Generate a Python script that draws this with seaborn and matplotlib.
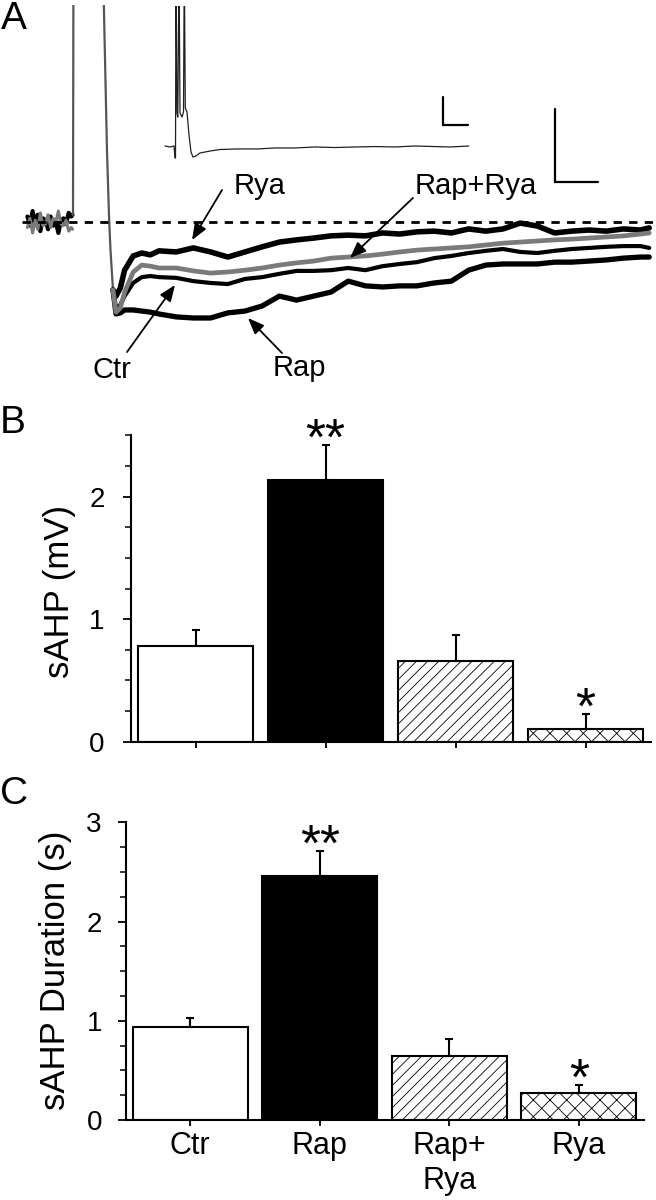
import numpy as np
import pandas as pd
import matplotlib
matplotlib.use("Agg")
import matplotlib.pyplot as plt
from matplotlib.ticker import MultipleLocator, FixedLocator
import seaborn as sns

# ---------------- data ----------------
categories = ["Ctr", "Rap", "Rap+Rya", "Rya"]
xtick_labels = ["Ctr", "Rap", "Rap+\nRya", "Rya"]
sahp_mean = [0.78, 2.14, 0.66, 0.10]      # mV
sahp_sem = [0.13, 0.28, 0.21, 0.13]
dur_mean = [0.94, 2.46, 0.64, 0.27]       # s
dur_sem = [0.09, 0.25, 0.18, 0.08]
sahp_sig = ["", "**", "", "*"]
dur_sig = ["", "**", "", "*"]

# panel A: resting baseline before the stimulus (s, mV relative to rest)
t_base = [-0.53, -0.50, -0.47, -0.44, -0.41, -0.38, -0.35, -0.32, -0.29, -0.26,
          -0.23, -0.20, -0.17, -0.14, -0.11, -0.08, -0.05, -0.02, -0.005]
v_base = [0.15, -0.10, 0.30, -0.05, 0.20, -0.25, 0.10, 0.05, -0.20, 0.15,
          -0.10, 0.00, -0.30, 0.05, 0.10, -0.05, 0.25, 0.15, 0.20]
# spike train (off scale) and fall into the AHP
t_spike = [-0.005, 0.0, 0.006, 0.34, 0.395, 0.419, 0.436, 0.465, 0.5]
v_spike = [0.20, 0.20, 8.0, 8.0, 1.97, 0.14, -0.77, -1.86, -2.45]
# afterhyperpolarisation part of each trace
t_trace = [0.5, 0.55, 0.6, 0.7, 0.8, 0.9, 1.0, 1.2, 1.4, 1.6, 1.8, 2.0, 2.2, 2.4,
           2.6, 2.8, 3.0, 3.2, 3.4, 3.6, 3.8, 4.0, 4.2, 4.4, 4.6, 4.8, 5.0, 5.2,
           5.4, 5.6, 5.8, 6.0, 6.2, 6.4, 6.6, 6.7]
v_rya = [-2.03, -1.81, -1.32, -0.93, -0.85, -0.90, -0.79, -0.82, -0.71, -0.82,
         -0.96, -0.82, -0.68, -0.55, -0.49, -0.44, -0.38, -0.36, -0.38, -0.30,
         -0.33, -0.27, -0.25, -0.30, -0.19, -0.25, -0.19, -0.03, -0.11, -0.30,
         -0.25, -0.22, -0.25, -0.19, -0.22, -0.16]
v_rap_rya = [-2.47, -2.36, -1.92, -1.37, -1.18, -1.21, -1.26, -1.26, -1.34, -1.40,
             -1.37, -1.32, -1.26, -1.18, -1.12, -1.07, -0.99, -0.96, -0.93, -0.88,
             -0.82, -0.77, -0.74, -0.71, -0.68, -0.63, -0.58, -0.55, -0.52, -0.49,
             -0.47, -0.44, -0.41, -0.38, -0.33, -0.30]
v_ctr = [-2.41, -2.27, -2.03, -1.67, -1.51, -1.48, -1.51, -1.53, -1.62, -1.67,
         -1.70, -1.56, -1.51, -1.42, -1.34, -1.34, -1.32, -1.26, -1.32, -1.21,
         -1.15, -1.10, -0.99, -0.93, -0.85, -0.79, -0.74, -0.82, -0.85, -0.79,
         -0.74, -0.71, -0.68, -0.66, -0.66, -0.71]
v_rap = [-2.52, -2.49, -2.41, -2.41, -2.44, -2.47, -2.52, -2.60, -2.63, -2.63,
         -2.49, -2.44, -2.30, -2.03, -2.14, -2.03, -1.92, -1.62, -1.75, -1.78,
         -1.75, -1.75, -1.67, -1.62, -1.32, -1.18, -1.15, -1.15, -1.15, -1.10,
         -1.10, -1.07, -1.04, -0.99, -0.96, -0.96]
# inset: full recording with spikes (s, mV)
inset_t = [-0.08, -0.04, -0.008, 0.0, 0.004, 0.008, 0.016, 0.0224, 0.032, 0.04,
           0.056, 0.068, 0.0744, 0.0824, 0.096, 0.112, 0.128, 0.144, 0.168, 0.2,
           0.28, 0.36, 0.5, 0.66, 0.8, 0.96, 1.12, 1.28, 1.44, 1.6, 1.76, 1.92,
           2.08, 2.2, 2.35]
inset_v = [0.0, -0.7, 0.0, -8.6, -8.6, 130.0, 23.6, 20.7, 130.0, 23.6,
           20.7, 24.3, 130.0, 27.1, 24.3, 7.9, -4.3, -7.9, -7.1, -5.0,
           -3.6, -2.5, -2.1, -2.1, -1.4, -1.4, -0.7, -1.1, -0.7, -0.4, -0.7, 0.0,
           -0.4, -0.7, 0.0]
scale_main = (0.5, 2.0)     # s, mV
scale_inset = (0.2, 20.0)   # s, mV

# ---------------- style ----------------
sns.set_theme(style="ticks")
plt.rcParams["font.family"] = ["Liberation Sans", "DejaVu Sans"]
plt.rcParams["hatch.linewidth"] = 0.6
for k in ["text.color", "axes.labelcolor", "xtick.color", "ytick.color",
          "axes.edgecolor"]:
    plt.rcParams[k] = "black"

W, H = 656, 1200
fig = plt.figure(figsize=(W / 100, H / 100), dpi=100)


def rect(x0, y0, x1, y1):
    return [x0 / W, 1 - y1 / H, (x1 - x0) / W, (y1 - y0) / H]


# ---------------- panel A ----------------
axA = fig.add_axes(rect(0, 5, 656, 400))
axA.set_xlim(-73 / 86, 583 / 86)
axA.set_ylim((222 - 400) / 36.5, (222 - 5) / 36.5)
axA.axis("off")

# baseline noise band (black and grey recordings overlap)
sns.lineplot(x=t_base, y=v_base, ax=axA, color="black", lw=3.0,
             estimator=None, sort=False)
sns.lineplot(x=t_base, y=[-v for v in v_base], ax=axA, color="#7a7a7a", lw=2.2,
             estimator=None, sort=False)
sns.lineplot(x=t_spike, y=v_spike, ax=axA, color="#555555", lw=1.6,
             estimator=None, sort=False)

traces = [
    ("Rap", v_rap, "black", 3.8),
    ("Ctr", v_ctr, "black", 3.0),
    ("Rya", v_rya, "black", 4.0),
    ("Rap+Rya", v_rap_rya, "#7a7a7a", 3.4),
]
for name, vals, col, lw in traces:
    sns.lineplot(x=[t_spike[-2]] + t_trace, y=[v_spike[-2]] + vals, ax=axA,
                 color=col, lw=lw, estimator=None, sort=False)

axA.plot([-0.593, 6.76], [0, 0], color="black", lw=2.0, ls=(0, (3, 2.6)), zorder=6)

# scale bar
sx, sy = 5.605, 1.096
axA.plot([sx, sx, sx + scale_main[0]], [sy + scale_main[1], sy, sy],
         color="black", lw=1.6, solid_joinstyle="miter")

label_fs = 21
axA.text(2.174, 0.99, "Rya", ha="center", va="center", fontsize=label_fs)
axA.text(4.686, 0.99, "Rap+Rya", ha="center", va="center", fontsize=label_fs)
axA.text(0.453, -4.05, "Ctr", ha="center", va="center", fontsize=label_fs)
axA.text(2.628, -4.0, "Rap", ha="center", va="center", fontsize=label_fs)
arrow_kw = dict(arrowstyle="-|>,head_length=0.7,head_width=0.28", color="black",
                lw=1.3, shrinkA=0, shrinkB=0, mutation_scale=14)
for tail, head in [((1.733, 0.877), (1.384, -0.493)),
                   ((3.953, 0.658), (3.221, -0.986)),
                   ((0.628, -3.562), (1.186, -1.726)),
                   ((2.430, -3.589), (2.035, -2.630))]:
    axA.annotate("", xy=head, xytext=tail, arrowprops=arrow_kw, zorder=7)

# inset
axI = fig.add_axes(rect(160, 6, 475, 165))
axI.set_xlim(-0.12, 2.4)
axI.set_ylim((146 - 165) / 1.4, (146 - 6) / 1.4)
axI.axis("off")
sns.lineplot(x=inset_t, y=inset_v, ax=axI, color="#202020", lw=0.9,
             estimator=None, sort=False)
ix, iy = 2.144, 15.0
axI.plot([ix, ix, ix + scale_inset[0]], [iy + scale_inset[1], iy, iy],
         color="black", lw=1.6, solid_joinstyle="miter")

# ---------------- bar panels ----------------
fills = dict(zip(categories, ["white", "black", "white", "white"]))
hatches = ["", "", "///", "xx"]


def bar_panel(ax, means, sems, sig, ymax, ylabel, label_xy, pad):
    df = pd.DataFrame({"cond": categories, "val": means})
    sns.barplot(data=df, x="cond", y="val", hue="cond", palette=fills,
                legend=False, width=0.885, edgecolor="black", linewidth=1.5,
                saturation=1, errorbar=None, ax=ax)
    for p, h in zip(ax.patches, hatches):
        p.set_hatch(h)
    ax.errorbar(np.arange(len(categories)), means,
                yerr=[np.zeros(len(means)), sems], fmt="none", ecolor="black",
                elinewidth=1.5, capsize=2.8, capthick=1.5, zorder=4)
    for i, s in enumerate(sig):
        if s:
            ax.annotate(s, xy=(i, means[i] + sems[i]), xytext=(0, -7),
                        textcoords="offset points", ha="center", va="baseline",
                        fontsize=37, annotation_clip=False)
    ax.set_xlim(-0.5, 3.5)
    ax.set_ylim(0, ymax)
    ax.yaxis.set_major_locator(FixedLocator(list(range(int(ymax) + 1))))
    ax.yaxis.set_minor_locator(MultipleLocator(0.25))
    sns.despine(ax=ax)
    for sp in ["left", "bottom"]:
        ax.spines[sp].set_linewidth(1.5)
        ax.spines[sp].set_color("black")
    ax.tick_params(axis="y", which="major", direction="out", length=5.5,
                   width=1.3, labelsize=20, pad=pad, colors="black")
    ax.tick_params(axis="y", which="minor", direction="out", length=4,
                   width=1.1, colors="black")
    ax.tick_params(axis="x", direction="out", length=4, width=1.3,
                   colors="black")
    ax.set_xlabel("")
    ax.set_ylabel(ylabel, fontsize=25, color="black")
    ax.yaxis.set_label_coords(*label_xy)
    ax.set_facecolor("none")


axB = fig.add_axes(rect(130.5, 435.5, 650.5, 741.7))
bar_panel(axB, sahp_mean, sahp_sem, sahp_sig, 2.5, "sAHP (mV)", (-0.105, 0.492), 13)
axB.tick_params(axis="x", labelbottom=False)

axC = fig.add_axes(rect(125.5, 822.3, 643.5, 1120))
bar_panel(axC, dur_mean, dur_sem, dur_sig, 3, "sAHP Duration (s)", (-0.103, 0.504), 11.5)
axC.set_xticks(range(len(categories)))
axC.set_xticklabels(xtick_labels, fontsize=22, color="black")
axC.tick_params(axis="x", pad=4)

# panel letters
fig.text(0.002, 0.999, "A", fontsize=28, va="top", ha="left")
fig.text(0.0, 1 - 405 / H, "B", fontsize=28, va="top", ha="left")
fig.text(0.0, 1 - 776 / H, "C", fontsize=28, va="top", ha="left")

fig.savefig("out.png", dpi=100, facecolor="white")
